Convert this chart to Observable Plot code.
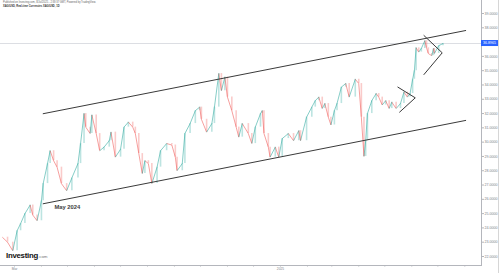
<!DOCTYPE html>
<html>
<head>
<meta charset="utf-8">
<script src="https://cdn.jsdelivr.net/npm/d3@7"></script>
<script src="https://cdn.jsdelivr.net/npm/@observablehq/plot@0.6"></script>
<style>
  html, body { margin: 0; padding: 0; background: #fff; }
  #wrap { position: relative; width: 500px; height: 273px; overflow: hidden; font-family: "Liberation Sans", Arial, sans-serif; }
  #chart { position: absolute; left: 0; top: 0; }
  .hdr { position: absolute; left: 3px; white-space: nowrap; line-height: 1; }
  #hdr1 { top: 2px; font-size: 2.6px; color: #666; }
  #hdr2 { top: 6px; font-size: 2.6px; font-weight: bold; color: #333; }
  #logo { position: absolute; left: 6px; top: 252px; font-size: 7.8px; font-weight: bold; color: #111; white-space: nowrap; letter-spacing: -0.25px; line-height: 1; }
  #logo span { font-size: 4.4px; font-weight: normal; color: #777; letter-spacing: 0; }
  #edge { position: absolute; left: 498px; top: 0; width: 1px; height: 273px; background: #d6d6d6; }
</style>
</head>
<body>
<div id="wrap">
  <div id="chart"></div>
  <div id="hdr1" class="hdr">Published on Investing.com, 8/Jul/2025 - 2:38:37 GMT, Powered by TradingView.</div>
  <div id="hdr2" class="hdr">XAG/USD, Real-time Currencies XAG/USD, 1D</div>
  <div id="logo">Investing<span>.com</span></div>
  <div id="edge"></div>
</div>
<script>
// ---- data ----
const dates = [
  "2024-02-16","2024-02-22","2024-02-28","2024-03-04","2024-03-08","2024-03-13","2024-03-19","2024-03-22","2024-03-27","2024-04-01",
  "2024-04-03","2024-04-08","2024-04-11","2024-04-15","2024-04-19","2024-04-24","2024-04-30","2024-05-06","2024-05-13","2024-05-16",
  "2024-05-20","2024-05-22","2024-05-27","2024-05-29","2024-06-03","2024-06-07","2024-06-12","2024-06-18","2024-06-20","2024-06-25",
  "2024-07-01","2024-07-05","2024-07-10","2024-07-15","2024-07-18","2024-07-22","2024-07-26","2024-07-29","2024-08-02","2024-08-06",
  "2024-08-12","2024-08-16","2024-08-23","2024-08-29","2024-09-02","2024-09-04","2024-09-10","2024-09-13","2024-09-19","2024-09-25",
  "2024-09-30","2024-10-02","2024-10-08","2024-10-14","2024-10-17","2024-10-22","2024-10-25","2024-10-29","2024-11-01","2024-11-06",
  "2024-11-11","2024-11-14","2024-11-18","2024-11-25","2024-11-29","2024-12-03","2024-12-09","2024-12-11","2024-12-13","2024-12-18",
  "2024-12-20","2024-12-26","2024-12-30","2025-01-03","2025-01-10","2025-01-16","2025-01-22","2025-01-24","2025-01-31","2025-02-06",
  "2025-02-10","2025-02-14","2025-02-18","2025-02-21","2025-02-25","2025-02-28","2025-03-04","2025-03-07","2025-03-12","2025-03-17",
  "2025-03-21","2025-03-28","2025-04-01","2025-04-04","2025-04-07","2025-04-09","2025-04-11","2025-04-16","2025-04-21","2025-04-24",
  "2025-04-28","2025-05-02","2025-05-06","2025-05-09","2025-05-14","2025-05-19","2025-05-23","2025-05-27","2025-05-30","2025-06-02",
  "2025-06-04","2025-06-06","2025-06-09","2025-06-12","2025-06-16","2025-06-18","2025-06-20","2025-06-24","2025-06-26","2025-06-27",
  "2025-07-02","2025-07-07"
];
const closes = [
  23.35,23.0,22.4,23.8,24.3,25.0,25.6,24.9,24.5,25.9,
  27.1,28.5,29.4,28.7,28.25,27.1,26.6,27.5,28.5,29.9,
  32.0,31.05,30.6,31.9,30.6,29.4,29.65,30.1,30.7,28.95,
  29.5,31.05,31.4,31.05,30.6,29.2,27.8,28.7,28.5,27.1,
  28.25,29.4,29.9,29.8,28.95,28.0,28.5,30.6,31.3,32.2,
  32.45,31.6,30.7,31.3,32.45,34.8,33.6,34.55,33.15,32.2,
  31.05,30.35,31.3,30.6,29.9,31.05,32.0,32.2,30.6,29.65,
  28.95,29.65,28.95,30.25,30.6,30.1,30.8,30.1,31.75,32.45,
  32.9,33.15,32.35,32.7,31.75,31.2,32.2,32.7,33.85,34.1,
  33.15,34.4,34.1,31.75,29.0,30.1,32.0,32.9,33.4,33.15,
  32.6,32.9,32.35,32.8,32.35,32.7,33.5,33.15,33.4,34.4,
  35.0,36.6,36.3,36.55,37.1,36.6,36.2,36.05,36.55,36.2,
  36.75,36.9
];
const lastPrice = 36.9;
const lastPriceLabel = "36.8965";
const yTickValues = [22,23,24,25,26,27,28,29,30,31,32,33,34,35,36,37,38,39];
const xLabelMonths = {"2024-03": "Mar", "2025-01": "2025"};
const channelDates = ["2024-04-03", "2025-08-02"];
const upperChannel = [31.99, 37.81];
const lowerChannel = [25.69, 31.52];
const wedge1Dates = ["2025-05-16", "2025-06-05", "2025-05-18"];
const wedge1Vals = [33.85, 33.1, 32.1];
const wedge2Dates = ["2025-06-15", "2025-07-06", "2025-06-15"];
const wedge2Vals = [37.46, 36.25, 34.73];
const noteText = "May 2024";
const noteDate = "2024-04-16";
const noteVal = 25.45;

// ---- build tables ----
const P = (s) => new Date(s + "T00:00Z");
const series = dates.map((d, i) => ({date: P(d), close: closes[i]}));
const segs = series.slice(1).map((d, i) => ({
  x1: series[i].date, y1: series[i].close, x2: d.date, y2: d.close,
  up: d.close >= series[i].close
}));
const lineOf = (ds, vs) => ds.map((d, i) => ({date: P(d), v: vs[i]}));
const note = [{date: P(noteDate), v: noteVal, text: noteText}];
const upCol = "#26a69a", downCol = "#ef5350";
const lineCol = "#3a3a3a";

const plot = Plot.plot({
  width: 500, height: 273,
  marginTop: 0, marginBottom: 8, marginLeft: 0, marginRight: 19,
  x: {type: "utc", domain: [new Date("2024-02-13T21:36Z"), new Date("2025-08-20T05:00Z")]},
  y: {domain: [21.37, 39.91]},
  style: {fontFamily: "'Liberation Sans', Arial, sans-serif", background: "white", overflow: "visible"},
  marks: [
    Plot.ruleY([lastPrice], {stroke: "#d2d4da", strokeWidth: 0.8}),
    Plot.ruleX(segs, {x: "x2", y1: "y1", y2: "y2", stroke: d => d.up ? upCol : downCol, strokeWidth: 1.6, strokeOpacity: 0.3}),
    Plot.link(segs, {x1: "x1", y1: "y1", x2: "x2", y2: "y2", stroke: d => d.up ? upCol : downCol, strokeWidth: 0.8, strokeOpacity: 0.7}),
    Plot.line(lineOf(channelDates, upperChannel), {x: "date", y: "v", stroke: lineCol, strokeWidth: 1}),
    Plot.line(lineOf(channelDates, lowerChannel), {x: "date", y: "v", stroke: lineCol, strokeWidth: 1}),
    Plot.line(lineOf(wedge1Dates, wedge1Vals), {x: "date", y: "v", stroke: lineCol, strokeWidth: 1}),
    Plot.line(lineOf(wedge2Dates, wedge2Vals), {x: "date", y: "v", stroke: lineCol, strokeWidth: 1}),
    Plot.text(note, {x: "date", y: "v", text: "text", textAnchor: "start", fontSize: 5.8, fontWeight: "bold", fill: "#3d3d3d"}),
    Plot.frame({anchor: "right", stroke: "#b4b6bc"}),
    Plot.frame({anchor: "bottom", stroke: "#b4b6bc"}),
    Plot.axisY(yTickValues, {anchor: "right", tickSize: 2, tickPadding: 1, fontSize: 3.6, tickFormat: d => d.toFixed(4), stroke: "#b4b6bc", fill: "#80838c"}),
    Plot.axisX(d3.utcMonth.range(P("2024-03-01"), P("2025-08-02")), {anchor: "bottom", tickSize: 1.5, tickPadding: 1, fontSize: 3.3, tickFormat: d => xLabelMonths[d3.utcFormat("%Y-%m")(d)] || "", stroke: "#b4b6bc", fill: "#80838c"})
  ]
});
document.getElementById("chart").appendChild(plot);

// last-price tag on the price scale
const ys = plot.scale("y"), xs = plot.scale("x");
const yy = ys.apply(lastPrice);
const xr = xs.range[1];
const svg = d3.select(plot);
svg.append("rect").attr("x", xr).attr("y", yy - 3).attr("width", 17).attr("height", 6).attr("fill", "#2962ff");
svg.append("text").attr("x", xr + 8.5).attr("y", yy + 1.2).attr("text-anchor", "middle")
  .attr("font-size", 3.6).attr("fill", "#fff").text(lastPriceLabel);
</script>
</body>
</html>
